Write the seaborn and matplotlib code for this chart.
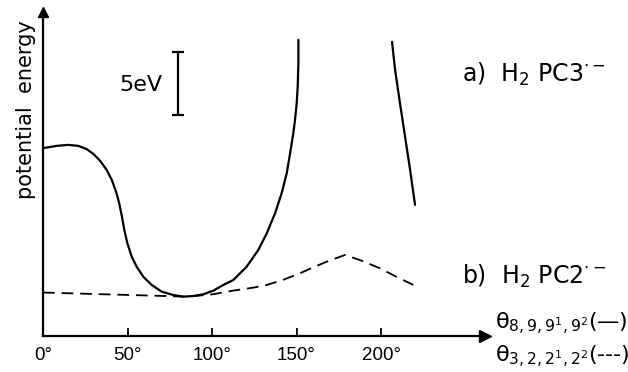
import matplotlib
matplotlib.use("Agg")
import matplotlib.pyplot as plt
import seaborn as sns
import pandas as pd

angle_a_left = [0, 8.1, 15.0, 20.9, 25.9, 29.8, 33.7, 37.7, 40.7, 43.2, 45.1, 46.7,
                48.1, 49.9, 52.5, 55.4, 59.3, 64.3, 70.2, 77.1, 83.0, 88.9, 94.9,
                100.8, 106.7, 112.6, 120.5, 127.4, 132.4, 137.3, 141.2, 144.2,
                146.2, 148.1, 149.1, 150.1, 150.7, 151.1, 151.1]
energy_a_left = [14.9, 15.08, 15.16, 15.08, 14.82, 14.44, 13.91, 13.17, 12.38, 11.45,
                 10.53, 9.47, 8.41, 7.36, 6.29, 5.50, 4.71, 4.05, 3.52, 3.25, 3.12,
                 3.17, 3.31, 3.60, 4.05, 4.44, 5.50, 6.83, 8.15, 9.74, 11.33, 12.91,
                 14.50, 16.09, 17.14, 18.47, 19.79, 21.64, 23.49]
angle_a_right = [206.5, 208.3, 211.2, 214.2, 217.2, 220.1]
energy_a_right = [23.33, 21.11, 18.47, 15.82, 13.17, 10.40]
angle_b = [0, 30, 60, 85, 100, 112.6, 125, 132.4, 142, 152.1, 160, 167.9, 174, 178.7,
           189, 199.4, 209, 219.1]
energy_b = [3.45, 3.33, 3.22, 3.12, 3.3, 3.6, 3.85, 4.05, 4.45, 4.98, 5.45, 5.9, 6.2,
            6.43, 5.95, 5.37, 4.7, 4.05]
xticks = [0, 50, 100, 150, 200]
xtick_labels = ["0°", "50°", "100°", "150°", "200°"]
scale_bar_ev = 5

sns.set_style("white")
plt.rcParams["font.family"] = ["DejaVu Sans"]
plt.rcParams["text.color"] = "black"
plt.rcParams["xtick.color"] = "black"
plt.rcParams["mathtext.default"] = "regular"

fig = plt.figure(figsize=(6.28, 3.72), dpi=100)
ax = fig.add_axes([43 / 628, 36 / 372, 442 / 628, 324 / 372])

df_left = pd.DataFrame({"angle": angle_a_left, "energy": energy_a_left})
df_right = pd.DataFrame({"angle": angle_a_right, "energy": energy_a_right})
df_b = pd.DataFrame({"angle": angle_b, "energy": energy_b})

sns.lineplot(data=df_left, x="angle", y="energy", sort=False, estimator=None,
             color="black", lw=1.6, ax=ax)
sns.lineplot(data=df_right, x="angle", y="energy", sort=False, estimator=None,
             color="black", lw=1.6, ax=ax)
sns.lineplot(data=df_b, x="angle", y="energy", sort=False, estimator=None,
             color="black", lw=1.3, ax=ax)
ax.lines[-1].set_dashes((6.5, 3.8))

ax.set_xlim(0, 261.5)
ax.set_ylim(0, 25.7)
ax.set_xlabel("")
ax.set_ylabel("")
for s in ["top", "right"]:
    ax.spines[s].set_visible(False)
for s in ["left", "bottom"]:
    ax.spines[s].set_linewidth(1.6)
    ax.spines[s].set_color("black")
ax.plot(1, 0, ">k", ms=8, transform=ax.transAxes, clip_on=False)
ax.plot(0, 1, "^k", ms=7, transform=ax.transAxes, clip_on=False)

ax.set_xticks(xticks)
ax.set_xticklabels(xtick_labels, fontsize=13.5, family=["Liberation Sans", "DejaVu Sans"])
ax.set_yticks([])
ax.tick_params(axis="x", direction="in", length=6, width=1.3, pad=8, bottom=True,
               labelcolor="black")

# 5 eV scale bar
ax.errorbar([80], [20.04], yerr=[scale_bar_ev / 2], fmt="none", ecolor="black",
            elinewidth=1.6, capsize=4.5, capthick=1.6)
ax.text(58, 19.9, "5eV", fontsize=16, ha="center", va="center")

fig.text(26 / 628, 1 - 110 / 372, "potential  energy", rotation=90, fontsize=15,
         ha="center", va="center")
fig.text(462 / 628, 1 - 82 / 372, r"a)  H$_2$ PC3$^{\cdot-}$", fontsize=17,
         ha="left", va="baseline")
fig.text(462 / 628, 1 - 284 / 372, r"b)  H$_2$ PC2$^{\cdot-}$", fontsize=17,
         ha="left", va="baseline")
fig.text(495 / 628, 1 - 329 / 372, r"$\theta_{8,9,9^1,9^2}$(—)", fontsize=16,
         ha="left", va="baseline")
fig.text(495 / 628, 1 - 362 / 372, r"$\theta_{3,2,2^1,2^2}$(---)", fontsize=16,
         ha="left", va="baseline")

fig.savefig("out.png", dpi=100)
